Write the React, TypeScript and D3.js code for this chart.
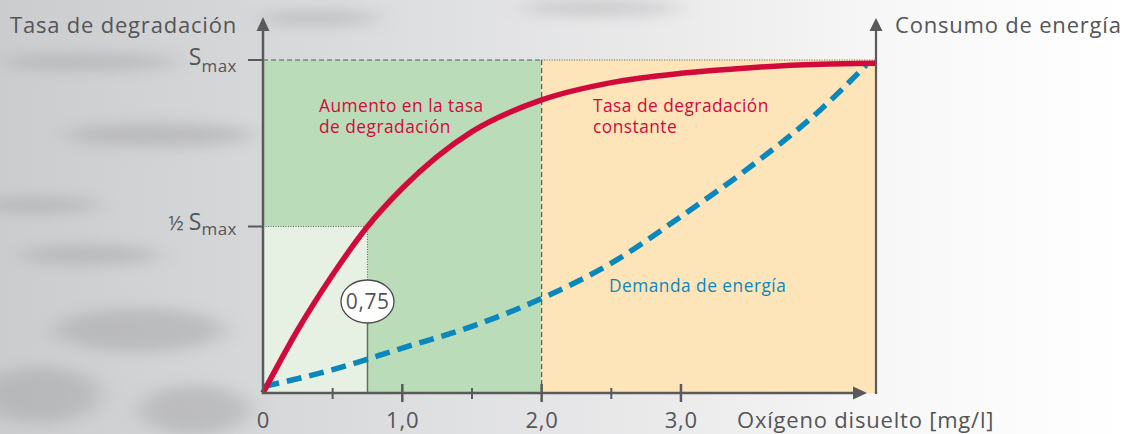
import React from "react";
import * as d3 from "d3";

// ---- data ----
const degradX = [0, 0.25, 0.5, 0.75, 1.0, 1.25, 1.5, 2.0, 2.5, 3.0, 3.5, 4.0, 4.4];
const degradY = [0, 0.19, 0.355, 0.5, 0.615, 0.71, 0.785, 0.88, 0.932, 0.96, 0.977, 0.987, 0.99];
const energyX = [0.01, 0.5, 1.0, 1.5, 2.0, 2.5, 3.0, 3.5, 4.0, 4.33];
const energyY = [0.02, 0.07, 0.135, 0.2, 0.284, 0.39, 0.53, 0.68, 0.85, 0.985];
const majorTicks = [1, 2, 3];
const minorTicks = [0.5, 1.5, 2.5];
const xTickLabels = ["1,0", "2,0", "3,0"];
const halfX = 0.75;
const halfLabel = "0,75";
const zoneBoundary = 2.0;
const xMax = 4.4;

const W = 1128;
const H = 434;
const FONT = "'Open Sans', 'Noto Sans', sans-serif";
const GRAY = "#555557";
const AXIS = "#5a5a5c";
const RED = "#d20a3c";
const BLUE = "#0a88bd";
const BIG = { fontSize: 22, letterSpacing: 0.8 };
const SMALL = { fontSize: 17.3, letterSpacing: 0.5 };

export default function App() {
  const x = d3.scaleLinear().domain([0, xMax]).range([263, 876]);
  const y = d3.scaleLinear().domain([0, 1]).range([393, 60]);

  const redLine = d3
    .line<number>()
    .x((_, i) => x(degradX[i]))
    .y((d) => y(d))
    .curve(d3.curveMonotoneX)(degradY) as string;
  const blueLine = d3
    .line<number>()
    .x((_, i) => x(energyX[i]))
    .y((d) => y(d))
    .curve(d3.curveMonotoneX)(energyY) as string;

  const x0 = x(0);
  const y0 = y(0);
  const yTop = y(1);
  const yHalf = y(0.5);
  const xHalf = x(halfX);
  const xB = x(zoneBoundary);
  const xR = x(xMax);
  const bubbleCy = 301.5;
  const bubbleRy = 21.5;
  const bubbleRx = 26.5;

  return (
    <svg
      width={W}
      height={H}
      style={{ position: "absolute", left: 0, top: 0 }}
      fontFamily={FONT}
    >
      <defs>
        <linearGradient id="bg" x1="0" y1="0" x2="1" y2="0">
          <stop offset="0" stopColor="#cbccce" />
          <stop offset="0.3" stopColor="#dadbdd" />
          <stop offset="0.6" stopColor="#ebebec" />
          <stop offset="0.8" stopColor="#f8f8f8" />
          <stop offset="1" stopColor="#ffffff" />
        </linearGradient>
        <filter id="blur" x="-50%" y="-100%" width="200%" height="300%">
          <feGaussianBlur stdDeviation="12 7" />
        </filter>
      </defs>
      <rect x={0} y={0} width={W} height={H} fill="url(#bg)" />
      <g filter="url(#blur)" fill="#9a9a9c" opacity={0.4}>
        <ellipse cx={160} cy={135} rx={95} ry={12} />
        <ellipse cx={40} cy={205} rx={60} ry={8} />
        <ellipse cx={90} cy={255} rx={70} ry={10} />
        <ellipse cx={140} cy={330} rx={85} ry={22} />
        <ellipse cx={40} cy={395} rx={60} ry={28} />
        <ellipse cx={195} cy={410} rx={55} ry={25} />
        <ellipse cx={90} cy={62} rx={90} ry={8} />
        <ellipse cx={320} cy={18} rx={60} ry={7} />
        <ellipse cx={600} cy={8} rx={80} ry={7} />
      </g>

      {/* zones */}
      <rect x={x0} y={yTop} width={xB - x0} height={y0 - yTop} fill="#bbdcb8" />
      <rect x={xB} y={yTop} width={xR - xB} height={y0 - yTop} fill="#fde5b9" />
      <rect x={x0} y={yHalf} width={xHalf - x0} height={y0 - yHalf} fill="#e6f1e3" />

      {/* guide lines */}
      <line x1={x0} x2={xB} y1={yTop} y2={yTop} stroke="#5a5a5c" strokeWidth={1.2} strokeDasharray="5 3" />
      <line x1={xB} x2={xR} y1={yTop} y2={yTop} stroke="#5a5a5c" strokeWidth={1.1} strokeDasharray="1 1.5" />
      <line x1={xB} x2={xB} y1={y0} y2={yTop} stroke="#5a5a5c" strokeWidth={1.2} strokeDasharray="5 3" />
      <line x1={x0} x2={xHalf} y1={yHalf} y2={yHalf} stroke="#6a6a6c" strokeWidth={1.1} strokeDasharray="1 1.5" />
      <line x1={xHalf} x2={xHalf} y1={yHalf} y2={bubbleCy - bubbleRy} stroke="#6a6a6c" strokeWidth={1.1} strokeDasharray="1 1.5" />
      <line x1={xHalf} x2={xHalf} y1={bubbleCy + bubbleRy} y2={y0} stroke="#6a6a6c" strokeWidth={1.5} />

      {/* curves */}
      <path d={blueLine} fill="none" stroke={BLUE} strokeWidth={5.5} strokeDasharray="15 8" />
      <path d={redLine} fill="none" stroke={RED} strokeWidth={5.5} />

      {/* axes */}
      <line x1={x0} x2={x0} y1={y0 + 1} y2={26} stroke={AXIS} strokeWidth={2.5} />
      <path d={`M${x0},17 L${x0 - 6.5},31 L${x0 + 6.5},31 Z`} fill={AXIS} />
      <line x1={xR} x2={xR} y1={y0 + 1} y2={26} stroke={AXIS} strokeWidth={2.2} />
      <path d={`M${xR},18 L${xR - 6.5},31 L${xR + 6.5},31 Z`} fill={AXIS} />
      <line x1={x0 - 1} x2={858} y1={y0} y2={y0} stroke={AXIS} strokeWidth={2.5} />
      <path d={`M867,${y0} L853,${y0 - 6.5} L853,${y0 + 6.5} Z`} fill={AXIS} />
      <line x1={xR} x2={xR} y1={y0 - 1} y2={y0 + 1} stroke={AXIS} strokeWidth={2.2} />

      {majorTicks.map((t) => (
        <line key={"M" + t} x1={x(t)} x2={x(t)} y1={y0 - 9} y2={y0 + 9} stroke={AXIS} strokeWidth={2.5} />
      ))}
      {minorTicks.map((t) => (
        <line key={"m" + t} x1={x(t)} x2={x(t)} y1={y0 - 5} y2={y0 + 6} stroke={AXIS} strokeWidth={2} />
      ))}
      <line x1={248} x2={x0} y1={yTop} y2={yTop} stroke={AXIS} strokeWidth={2} />
      <line x1={248} x2={x0} y1={yHalf} y2={yHalf} stroke={AXIS} strokeWidth={2} />

      {/* bubble */}
      <ellipse cx={xHalf} cy={bubbleCy} rx={bubbleRx} ry={bubbleRy} fill="#ffffff" stroke="#4a4a4c" strokeWidth={1.3} />
      <text x={xHalf + 0.3} y={bubbleCy + 7.5} textAnchor="middle" fontSize={21} letterSpacing={0.6} fill={GRAY}>
        {halfLabel}
      </text>

      {/* axis texts */}
      <text x={10} y={33} {...BIG} fill={GRAY}>Tasa de degradación</text>
      <text x={895} y={33} {...BIG} fill={GRAY}>Consumo de energía</text>
      <text x={237} y={65} textAnchor="end" fontSize={23} fill={GRAY}>
        S<tspan fontSize={17} dy={7} letterSpacing={0.5}>max</tspan>
      </text>
      <text x={237} y={230} textAnchor="end" fontSize={23} fill={GRAY}>
        <tspan fontSize={20}>½ </tspan>S<tspan fontSize={17} dy={5} letterSpacing={0.5}>max</tspan>
      </text>
      <text x={x0 + 0.4} y={428} textAnchor="middle" {...BIG} fill={GRAY}>0</text>
      {majorTicks.map((t, i) => (
        <text key={"l" + t} x={x(t) + 0.4} y={428} textAnchor="middle" {...BIG} fill={GRAY}>
          {xTickLabels[i]}
        </text>
      ))}
      <text x={737} y={428} {...BIG} fill={GRAY}>Oxígeno disuelto [mg/l]</text>

      {/* annotations */}
      <text x={319} y={112} {...SMALL} fill={RED}>Aumento en la tasa</text>
      <text x={319} y={133} {...SMALL} fill={RED}>de degradación</text>
      <text x={593} y={112} {...SMALL} fill={RED}>Tasa de degradación</text>
      <text x={593} y={133} {...SMALL} fill={RED}>constante</text>
      <text x={609} y={292} {...SMALL} fill={BLUE}>Demanda de energía</text>
    </svg>
  );
}
